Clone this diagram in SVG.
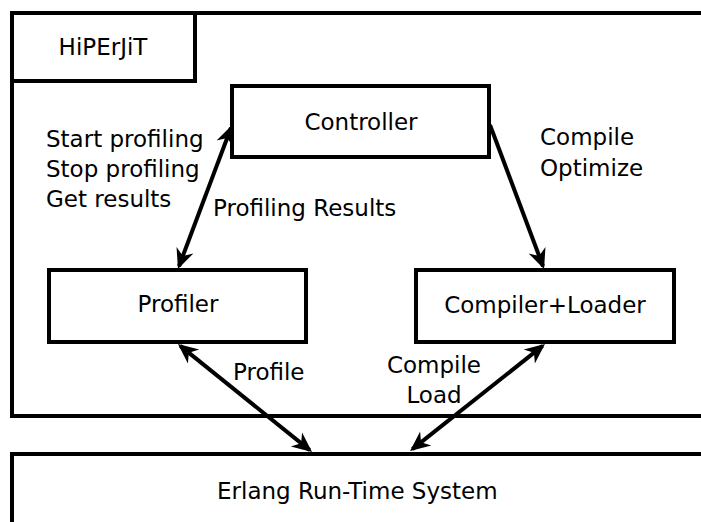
<svg xmlns="http://www.w3.org/2000/svg" width="701" height="522" viewBox="0 0 701 522">
<style>
.box{fill:#fff;stroke:#000;stroke-width:4}
.t{font-family:"DejaVu Sans",sans-serif;font-size:23px;fill:#000}
.m{text-anchor:middle}
.c{fill:none;stroke:#000;stroke-width:4}
</style>
<defs>
<marker id="ah" markerUnits="userSpaceOnUse" markerWidth="30" markerHeight="30" viewBox="-20 -15 30 30" refX="0" refY="0" orient="auto-start-reverse">
<path d="M3,0 L-17,-9 L-11,0 L-17,9 Z" fill="#000"/>
</marker>
</defs>
<rect width="701" height="522" fill="#fff"/>
<g id="hiperjit">
<rect class="box" x="12" y="13" width="720" height="403"/>
<rect class="box" x="12" y="13" width="183" height="68"/>
<text class="t m" x="103" y="55">HiPErJiT</text>
</g>
<g id="erlang">
<rect class="box" x="12" y="454" width="720" height="100"/>
<text class="t" x="217" y="499">Erlang Run-Time System</text>
</g>
<g id="controller">
<rect class="box" x="232" y="86" width="257" height="71"/>
<text class="t m" x="361" y="130">Controller</text>
</g>
<g id="profiler">
<rect class="box" x="49" y="270" width="257" height="72"/>
<text class="t m" x="178" y="312">Profiler</text>
</g>
<g id="compiler">
<rect class="box" x="416" y="270" width="258" height="72"/>
<text class="t m" x="545" y="313">Compiler+Loader</text>
</g>
<g id="connectors">
<line class="c" x1="231" y1="127.8" x2="179" y2="266.2" marker-start="url(#ah)" marker-end="url(#ah)"/>
<line class="c" x1="490" y1="125" x2="543" y2="266.2" marker-end="url(#ah)"/>
<line class="c" x1="180.3" y1="345.9" x2="309.7" y2="450.1" marker-start="url(#ah)" marker-end="url(#ah)"/>
<line class="c" x1="542.6" y1="345.9" x2="412.4" y2="449.1" marker-start="url(#ah)" marker-end="url(#ah)"/>
<text class="t" x="46" y="147">Start profiling</text>
<text class="t" x="46" y="177">Stop profiling</text>
<text class="t" x="46" y="207">Get results</text>
<text class="t" x="213" y="216">Profiling Results</text>
<text class="t" x="540" y="145">Compile</text>
<text class="t" x="540" y="176">Optimize</text>
<text class="t" x="233" y="380">Profile</text>
<text class="t m" x="434" y="373">Compile</text>
<text class="t m" x="434" y="403">Load</text>
</g>
</svg>
